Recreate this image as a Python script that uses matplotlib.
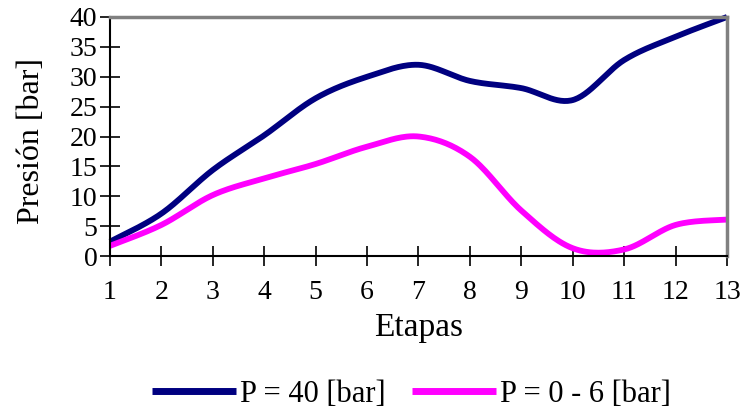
import numpy as np
import matplotlib
matplotlib.use("Agg")
import matplotlib.pyplot as plt

etapas = [1, 2, 3, 4, 5, 6, 7, 8, 9, 10, 11, 12, 13]
p40 = [2.4, 7.1, 14.4, 20.2, 26.4, 30.0, 32.0, 29.3, 28.1, 26.1, 32.8, 36.7, 40.0]
p06 = [1.7, 5.2, 10.2, 13.0, 15.4, 18.3, 20.0, 16.6, 7.6, 1.3, 1.1, 5.2, 6.1]
xticks = list(range(1, 14))
yticks = list(range(0, 41, 5))
labels = ["P = 40 [bar]", "P = 0 - 6 [bar]"]
colors = ["#000080", "#FF00FF"]


def smooth(x, y, n=30):
    # Catmull-Rom style smoothing (like Excel's smoothed lines)
    x = np.asarray(x, float)
    y = np.asarray(y, float)
    px = np.concatenate([[x[0]], x, [x[-1]]])
    py = np.concatenate([[y[0]], y, [y[-1]]])
    xs, ys = [], []
    for i in range(1, len(px) - 2):
        p0x, p1x, p2x, p3x = px[i - 1], px[i], px[i + 1], px[i + 2]
        p0y, p1y, p2y, p3y = py[i - 1], py[i], py[i + 1], py[i + 2]
        c1x = p1x + (p2x - p0x) / 6
        c1y = p1y + (p2y - p0y) / 6
        c2x = p2x - (p3x - p1x) / 6
        c2y = p2y - (p3y - p1y) / 6
        t = np.linspace(0, 1, n, endpoint=(i == len(px) - 3))
        b0 = (1 - t) ** 3
        b1 = 3 * (1 - t) ** 2 * t
        b2 = 3 * (1 - t) * t ** 2
        b3 = t ** 3
        xs.append(b0 * p1x + b1 * c1x + b2 * c2x + b3 * p2x)
        ys.append(b0 * p1y + b1 * c1y + b2 * c2y + b3 * p2y)
    return np.concatenate(xs), np.concatenate(ys)


plt.rcParams['font.family'] = ['Liberation Serif', 'DejaVu Serif']

fig = plt.figure(figsize=(7.42, 4.08), dpi=100)
ax = fig.add_axes([110 / 742, 1 - 256 / 408, (727 - 110) / 742, (256 - 17) / 408])

for y, lab, c in zip([p40, p06], labels, colors):
    sx, sy = smooth(etapas, y)
    ax.plot(sx, sy, color=c, lw=4.2, label=lab, solid_capstyle='butt', clip_on=False)

ax.set_xlim(1, 13)
ax.set_ylim(0, 40)
ax.set_xticks(xticks)
ax.set_yticks(yticks)
ax.tick_params(axis='both', direction='inout', length=14, width=1.2, labelsize=20, color='black')
ax.tick_params(axis='x', pad=10)
ax.tick_params(axis='y', pad=2)

for s in ['left', 'bottom']:
    ax.spines[s].set_color('black')
    ax.spines[s].set_linewidth(1.5)
for s in ['top', 'right']:
    ax.spines[s].set_color('#808080')
    ax.spines[s].set_linewidth(2.5)

ax.set_xlabel('Etapas', fontsize=24, labelpad=6)
ax.set_ylabel('Presión [bar]', fontsize=23)
ax.yaxis.set_label_coords(-0.104, 0.48)

leg = fig.legend(loc='lower center', bbox_to_anchor=(0.5546, -0.07), ncol=2, frameon=False,
                 fontsize=22, handlelength=2.75, handletextpad=0.13, columnspacing=0.85)
for line in leg.get_lines():
    line.set_linewidth(5)

fig.savefig('out.png', dpi=100)
